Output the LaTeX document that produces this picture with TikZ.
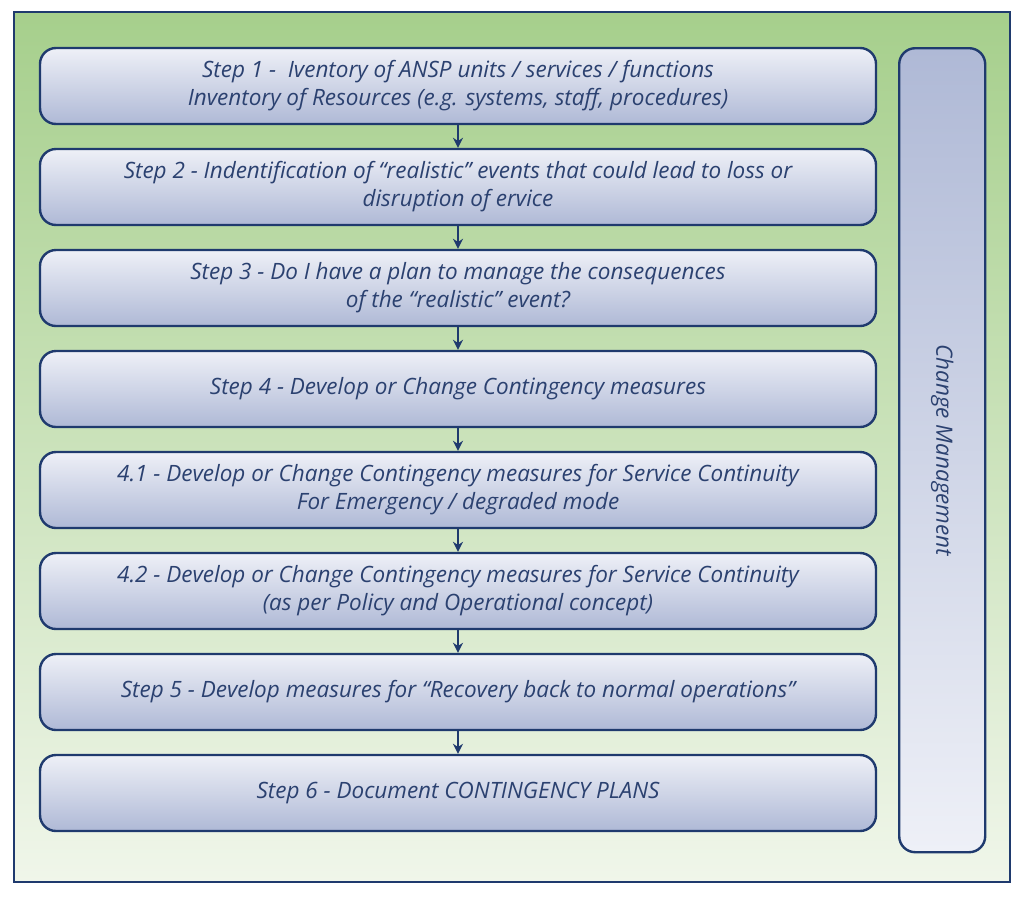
\documentclass[tikz,border=0pt]{standalone}
\usepackage{fontspec}
\setmainfont{Open Sans}
\usetikzlibrary{positioning, arrows.meta}
\definecolor{cm-navy}{HTML}{1F3A6E}
\definecolor{cm-text}{HTML}{2B4170}
\definecolor{cm-green}{HTML}{A6CF8C}
\definecolor{cm-pale}{HTML}{F0F6EA}
\definecolor{cm-box-top}{HTML}{EEF0F7}
\definecolor{cm-box-bot}{HTML}{AFB9D6}
\tikzset{
  stepbox/.style={draw=cm-navy, line width=2.4pt, rounded corners=16pt,
    top color=cm-box-top, bottom color=cm-box-bot, minimum width=836pt,
    minimum height=76pt, align=center, text=cm-text,
    font=\fontsize{22.5}{28}\selectfont\itshape},
  flow/.style={-{Stealth[length=10pt,width=10pt]}, cm-navy, line width=2.6pt}
}
\begin{document}
\begin{tikzpicture}[x=1pt, y=-1pt, node distance=22.6pt]
  \useasboundingbox (0,0) rectangle (1024,900);
  \draw[cm-navy, line width=2pt, top color=cm-green, bottom color=cm-pale]
    (14,12) rectangle (1010,882);
  \node[stepbox] (s1) at (458,86) {Step 1 -\ \ Iventory of ANSP units / services / functions\\Inventory of Resources (e.g. systems, staff, procedures)};
  \node[stepbox, below=of s1] (s2) {Step 2 - Indentification of “realistic” events that could lead to loss or\\disruption of ervice};
  \node[stepbox, below=of s2] (s3) {Step 3 - Do I have a plan to manage the consequences\\of the “realistic” event?};
  \node[stepbox, below=of s3] (s4) {Step 4 - Develop or Change Contingency measures};
  \node[stepbox, below=of s4] (s41) {4.1 - Develop or Change Contingency measures for Service Continuity\\For Emergency / degraded mode};
  \node[stepbox, below=of s41] (s42) {4.2 - Develop or Change Contingency measures for Service Continuity\\(as per Policy and Operational concept)};
  \node[stepbox, below=of s42] (s5) {Step 5 - Develop measures for “Recovery back to normal operations”};
  \node[stepbox, below=of s5] (s6) {Step 6 - Document CONTINGENCY PLANS};
  \node[stepbox, minimum width=86pt, minimum height=804pt, top color=cm-box-bot,
    bottom color=cm-box-top, anchor=north west] (cm) at (898,47) {};
  \node[rotate=-90, text=cm-text, font=\fontsize{22.5}{28}\selectfont\itshape] (cmlabel) at (cm) {Change Management};
  \foreach \a/\b in {s1/s2, s2/s3, s3/s4, s4/s41, s41/s42, s42/s5, s5/s6}
    \draw[flow] (\a) -- (\b);
\end{tikzpicture}
\end{document}
